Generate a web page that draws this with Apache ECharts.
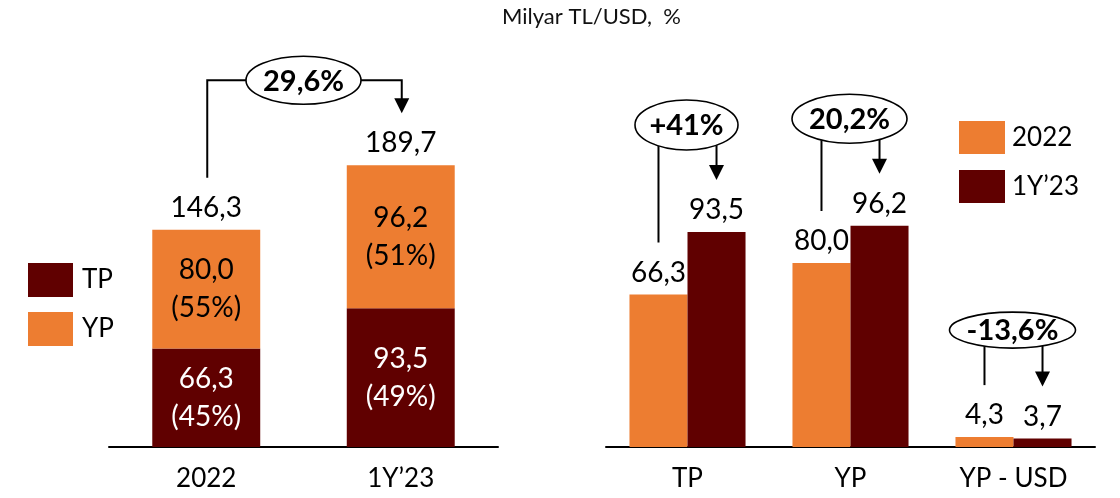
<!DOCTYPE html>
<html>
<head>
<meta charset="utf-8">
<script src="https://cdn.jsdelivr.net/npm/echarts@6/dist/echarts.min.js"></script>
<style>
  html, body { margin: 0; padding: 0; background: #fff; }
  #chart { width: 1120px; height: 498px; }
</style>
</head>
<body>
<div id="chart"></div>
<script>
// sol grafik: yığılmış çubuk
const periods = ['2022', '1Y\u201923'];
const tpValues = [66.3, 93.5];
const ypValues = [80.0, 96.2];
const tpShare = [45, 49];
const ypShare = [55, 51];
const periodChange = '29,6%';

// sağ grafik: gruplu çubuk
const groups = ['TP', 'YP', 'YP - USD'];
const values2022 = [66.3, 80.0, 4.3];
const values1Y23 = [93.5, 96.2, 3.7];
const groupChanges = ['+41%', '20,2%', '-13,6%'];

const ORANGE = '#ED7D31';
const DARK = '#600000';
const FONT = 'Lato';

const totals = tpValues.map((v, i) => +(v + ypValues[i]).toFixed(1));
const fmt = v => v.toFixed(1).replace('.', ',');

const mychart = echarts.init(document.getElementById('chart'));

const axisX = (gridIndex, data) => ({
  type: 'category',
  gridIndex: gridIndex,
  data: data,
  axisLine: { lineStyle: { color: '#000', width: 2 } },
  axisTick: { show: false },
  axisLabel: { color: '#000', fontSize: 26, fontFamily: FONT, margin: 17, lineHeight: 30 }
});
const axisY = (gridIndex, max) => ({
  type: 'value', gridIndex: gridIndex, min: 0, max: max, show: false
});
const topLabel = {
  show: true, position: 'top', distance: 7,
  color: '#000', fontSize: 28, fontFamily: FONT, lineHeight: 30,
  formatter: p => fmt(p.value)
};

mychart.setOption({
  animation: false,
  title: {
    text: 'Milyar TL/USD,  %',
    left: 497, top: 1,
    textStyle: { fontSize: 22, fontWeight: 'normal', color: '#111', fontFamily: FONT }
  },
  legend: [
    {
      data: ['TP', 'YP'],
      orient: 'vertical', left: 23, top: 258,
      itemWidth: 45, itemHeight: 34, itemGap: 15,
      icon: 'rect', selectedMode: false,
      textStyle: { fontSize: 26, color: '#000', fontFamily: FONT, padding: [0, 0, 0, 4] }
    },
    {
      data: ['2022', '1Y\u201923'],
      orient: 'vertical', left: 954, top: 116,
      itemWidth: 46, itemHeight: 33, itemGap: 16,
      icon: 'rect', selectedMode: false,
      textStyle: { fontSize: 26, color: '#000', fontFamily: FONT, padding: [0, 0, 0, 2] }
    }
  ],
  grid: [
    { left: 109, width: 389, top: 150, height: 297 },
    { left: 606, width: 489, top: 217, height: 230 }
  ],
  xAxis: [axisX(0, periods), axisX(1, groups)],
  yAxis: [axisY(0, 200), axisY(1, 100)],
  series: [
    {
      name: 'TP', type: 'bar', stack: 'sol', xAxisIndex: 0, yAxisIndex: 0,
      barCategoryGap: '44.5%',
      itemStyle: { color: DARK },
      data: tpValues,
      label: {
        show: true, position: 'inside', color: '#fff', fontSize: 28, fontFamily: FONT, lineHeight: 38,
        formatter: p => fmt(p.value) + '\n(' + tpShare[p.dataIndex] + '%)'
      }
    },
    {
      name: 'YP', type: 'bar', stack: 'sol', xAxisIndex: 0, yAxisIndex: 0,
      itemStyle: { color: ORANGE },
      data: ypValues,
      label: {
        show: true, position: 'inside', color: '#000', fontSize: 28, fontFamily: FONT, lineHeight: 38,
        formatter: p => fmt(p.value) + '\n(' + ypShare[p.dataIndex] + '%)'
      }
    },
    {
      // toplam etiketi için sıfır yükseklikli çubuk
      name: 'Toplam', type: 'bar', stack: 'sol', xAxisIndex: 0, yAxisIndex: 0,
      itemStyle: { color: 'transparent' },
      data: totals.map(() => 0),
      label: Object.assign({}, topLabel, { formatter: p => fmt(totals[p.dataIndex]) })
    },
    {
      name: '2022', type: 'bar', xAxisIndex: 1, yAxisIndex: 1,
      barGap: 0, barCategoryGap: '28.8%',
      itemStyle: { color: ORANGE },
      data: values2022,
      label: topLabel
    },
    {
      name: '1Y\u201923', type: 'bar', xAxisIndex: 1, yAxisIndex: 1,
      barGap: 0, barCategoryGap: '28.8%',
      itemStyle: { color: DARK },
      data: values1Y23,
      label: topLabel
    }
  ]
});

// oklar ve elipsler
function buildAnnotations() {
  const g = [];
  const stroke = { stroke: '#000', lineWidth: 2, fill: null };
  const arrowHead = (x, tip) => ({
    type: 'polygon', silent: true,
    shape: { points: [[x - 7.5, tip - 15], [x + 7.5, tip - 15], [x, tip]] },
    style: { fill: '#000' }
  });
  const bubble = (cx, cy, rx, ry, text) => {
    g.push({ type: 'ellipse', silent: true, z: 10, shape: { cx: cx, cy: cy, rx: rx, ry: ry },
      style: { fill: '#fff', stroke: '#000', lineWidth: 1.6 } });
    g.push({ type: 'text', silent: true, z: 11, style: {
      text: text, x: cx, y: cy + 1, textAlign: 'center', textVerticalAlign: 'middle',
      font: 'bold 29px ' + FONT, fill: '#000' } });
  };
  const edgeY = (cx, cy, rx, ry, x) => cy + ry * Math.sqrt(Math.max(0, 1 - Math.pow((x - cx) / rx, 2)));

  // sol: 2022 -> 1Y'23
  const x0 = mychart.convertToPixel({ xAxisIndex: 0 }, 0);
  const x1 = mychart.convertToPixel({ xAxisIndex: 0 }, 1);
  const t0 = mychart.convertToPixel({ yAxisIndex: 0 }, totals[0]);
  const t1 = mychart.convertToPixel({ yAxisIndex: 0 }, totals[1]);
  const lcy = Math.min(t0, t1) - 85, lcx = (x0 + x1) / 2, lrx = 57.5, lry = 24;
  g.push({ type: 'polyline', silent: true, shape: { points: [[x0 + 1, t0 - 52], [x0 + 1, lcy], [lcx - lrx, lcy]] }, style: stroke });
  g.push({ type: 'polyline', silent: true, shape: { points: [[lcx + lrx, lcy], [x1 + 1, lcy], [x1 + 1, t1 - 64]] }, style: stroke });
  g.push(arrowHead(x1 + 1, t1 - 52));
  bubble(lcx, lcy, lrx, lry, periodChange);

  // sağ: her grup için
  const band = mychart.convertToPixel({ xAxisIndex: 1 }, 1) - mychart.convertToPixel({ xAxisIndex: 1 }, 0);
  const barW = band * (1 - 0.288) / 2;
  const sizes = [[51.5, 25], [57.5, 24.5], [63, 18]];
  groups.forEach((name, i) => {
    const c = mychart.convertToPixel({ xAxisIndex: 1 }, i);
    const xa = c - barW / 2, xb = c + barW / 2;
    const ya = mychart.convertToPixel({ yAxisIndex: 1 }, values2022[i]);
    const yb = mychart.convertToPixel({ yAxisIndex: 1 }, values1Y23[i]);
    const cx = c - 1, cy = Math.min(ya, yb) - 107;
    const rx = sizes[i][0], ry = sizes[i][1];
    g.push({ type: 'line', silent: true, shape: { x1: xa, y1: edgeY(cx, cy, rx, ry, xa), x2: xa, y2: ya - 52 }, style: stroke });
    g.push({ type: 'line', silent: true, shape: { x1: xb, y1: edgeY(cx, cy, rx, ry, xb), x2: xb, y2: yb - 64 }, style: stroke });
    g.push(arrowHead(xb, yb - 52));
    bubble(cx, cy, rx, ry, groupChanges[i]);
  });
  return g;
}

mychart.setOption({ graphic: buildAnnotations() });
</script>
</body>
</html>
